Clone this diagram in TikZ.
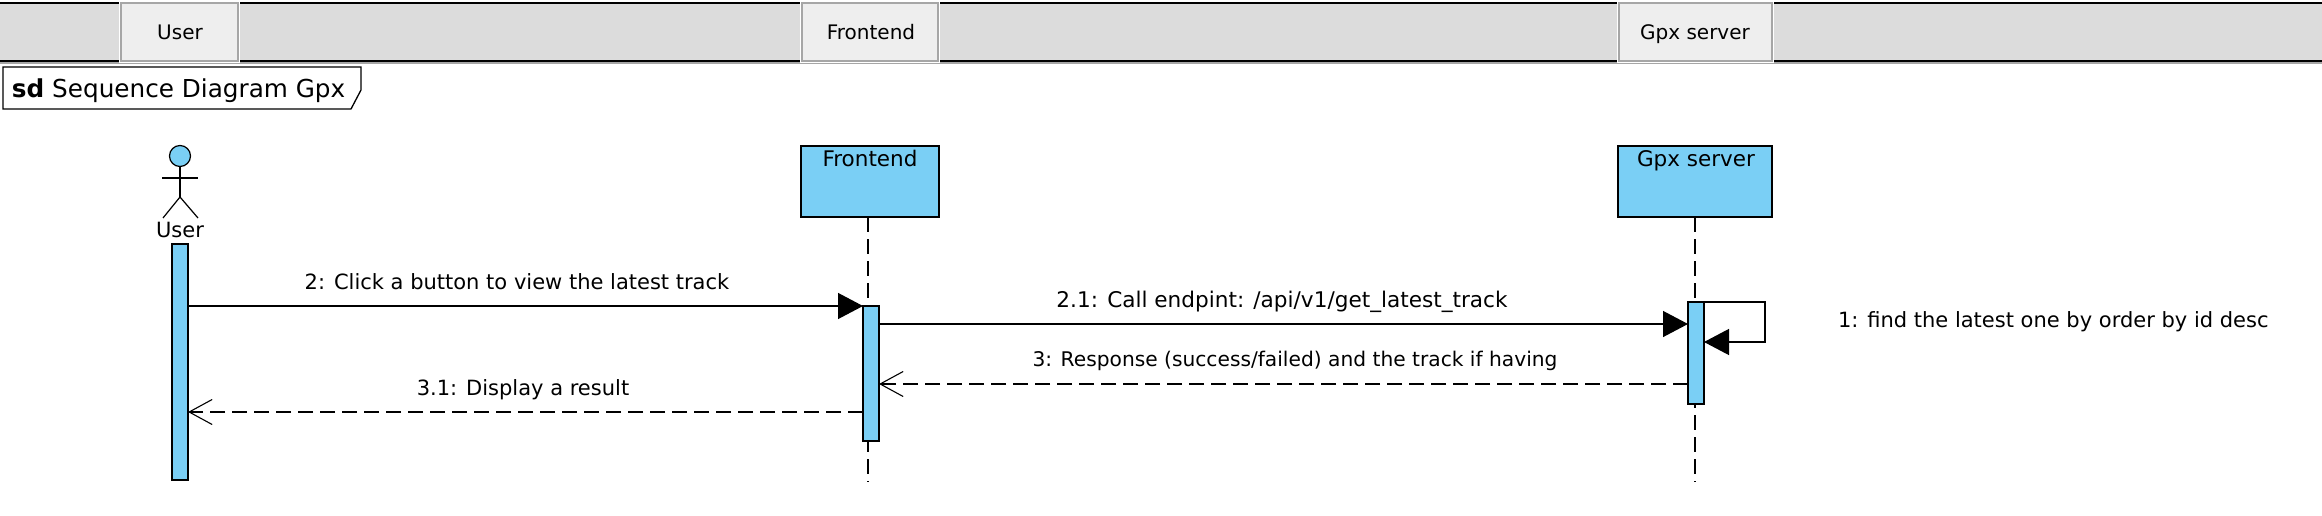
\documentclass[tikz,border=0pt]{standalone}
\usepackage{fontspec}
\setmainfont{DejaVu Sans}
\usetikzlibrary{arrows.meta}
\usetikzlibrary{calc}
\definecolor{barblue}{HTML}{7ACFF5}
\definecolor{bandgrey}{HTML}{DCDCDC}
\definecolor{tabgrey}{HTML}{EEEEEE}
\definecolor{tabedge}{HTML}{A6A6A6}
\newcommand\umlfont{\fontsize{21}{25}\selectfont}
\newcommand\tabfont{\fontsize{20}{24}\selectfont}
\newcommand\namefont{\fontsize{21.5}{25}\selectfont}

\begin{document}
\begin{tikzpicture}[
    x=1pt, y=-1pt,
    every node/.style={font=\umlfont, inner sep=0pt, outer sep=0pt},
    msgtext/.style={anchor=base},
    tabbox/.style={
      anchor=north west, fill=tabgrey, draw=tabedge, line width=1.2pt,
      minimum height=58pt,
      preaction={draw=white, line width=3.5pt}
    },
    tabtext/.style={anchor=base, font=\tabfont},
    lifebox/.style={
      anchor=north west, fill=barblue, draw=black, line width=1.3pt,
      minimum height=71pt
    },
    activebar/.style={
      anchor=north west, fill=barblue, draw=black, line width=1.2pt,
      minimum width=16pt
    },
    lifeline/.style={line width=1.1pt, dash pattern=on 15pt off 7pt},
    syncmsg/.style={
      line width=1.3pt, -{Triangle[length=25pt,width=26pt]}
    },
    returnmsg/.style={
      line width=1.3pt, dash pattern=on 15pt off 7pt,
      -{Straight Barb[length=23pt,width=25pt,line width=1.1pt]}
    }
  ]
    \useasboundingbox (0,0) rectangle (2322,516);

    \fill[bandgrey] (0,3) rectangle (2322,61);
    \draw[black, line width=2pt] (0,3) -- (2322,3);
    \draw[black, line width=2pt] (0,61) -- (2322,61);
    \draw[tabedge, line width=2pt] (0,63) -- (2322,63);

    \node[tabbox, minimum width=117pt] (TabUser) at (121,3) {};
    \node[tabbox, minimum width=136pt] (TabFrontend) at (802,3) {};
    \node[tabbox, minimum width=153pt] (TabGpx) at (1619,3) {};
    \node[tabtext] (TabUserText) at (180,40) {User};
    \node[tabtext] (TabFrontendText) at (871,40) {Frontend};
    \node[tabtext] (TabGpxText) at (1695,40) {Gpx server};

    \draw[black, line width=1.3pt, fill=white] (3,67) -- (361,67) -- (361,90) -- (351,109) -- (3,109) -- cycle;
    \node[anchor=base west, font=\fontsize{24.7}{29}\selectfont] (FrameTitle) at (12,98) {\textbf{sd} Sequence Diagram Gpx};

    \coordinate (endFrontend) at (868,482);
    \coordinate (endGpx) at (1695,482);
    \coordinate (rowClick) at (0,306);
    \coordinate (rowCall) at (0,324);
    \coordinate (rowLoop) at (1765,342);
    \coordinate (rowResponse) at (0,384);
    \coordinate (rowDisplay) at (0,412);

    \node[circle, fill=barblue, draw=black, line width=1.2pt, minimum size=21pt] (UserHead) at (180,156) {};
    \coordinate (UserHip) at (180,197);
    \coordinate (UserArmLeft) at (162,178);
    \coordinate (UserArmRight) at (198,178);
    \coordinate (UserFootLeft) at (163,218);
    \coordinate (UserFootRight) at (198,218);
    \draw[line width=1.2pt] (UserHead) -- (UserHip);
    \draw[line width=1.2pt] (UserArmLeft) -- (UserArmRight);
    \draw[line width=1.2pt] (UserFootLeft) -- (UserHip) -- (UserFootRight);
    \node[msgtext] (UserName) at (180,237) {User};

    \node[lifebox, minimum width=138pt] (FrontendBox) at (801,146) {};
    \node[lifebox, minimum width=154pt] (GpxBox) at (1618,146) {};
    \node[anchor=base, font=\namefont] (FrontendName) at (870,167) {Frontend};
    \node[anchor=base, font=\namefont] (GpxName) at (1696,167) {Gpx server};

    \draw[lifeline] (FrontendBox.south -| endFrontend) -- (endFrontend);
    \draw[lifeline] (GpxBox.south -| endGpx) -- (endGpx);

    \node[activebar, minimum height=236pt] (UserBar) at (172,244) {};
    \node[activebar, minimum height=135pt] (FrontendBar) at (863,306) {};
    \node[activebar, minimum height=102pt] (GpxBar) at (1688,302) {};

    \draw[syncmsg] (UserBar.east |- rowClick) -- (FrontendBar.west |- rowClick);
    \draw[syncmsg] (FrontendBar.east |- rowCall) -- (GpxBar.west |- rowCall);
    \draw[syncmsg] (GpxBar.north east) -| (rowLoop) -- (GpxBar.east |- rowLoop);
    \draw[returnmsg] (GpxBar.west |- rowResponse) -- (FrontendBar.east |- rowResponse);
    \draw[returnmsg] (FrontendBar.west |- rowDisplay) -- (UserBar.east |- rowDisplay);

    \node[msgtext] (LabelClick) at (517,289) {2: Click a button to view the latest track};
    \node[msgtext, font=\fontsize{21.6}{25}\selectfont] (LabelCall) at (1282,307) {2.1: Call endpint: /api/v1/get\_latest\_track};
    \node[msgtext, font=\fontsize{20.2}{24}\selectfont] (LabelResponse) at (1295,366) {3: Response (success/failed) and the track if having};
    \node[msgtext] (LabelDisplay) at (523,395) {3.1: Display a result};
    \node[anchor=base west] (LabelFind) at (1838,327) {1: find the latest one by order by id desc};
  \end{tikzpicture}
\end{document}
